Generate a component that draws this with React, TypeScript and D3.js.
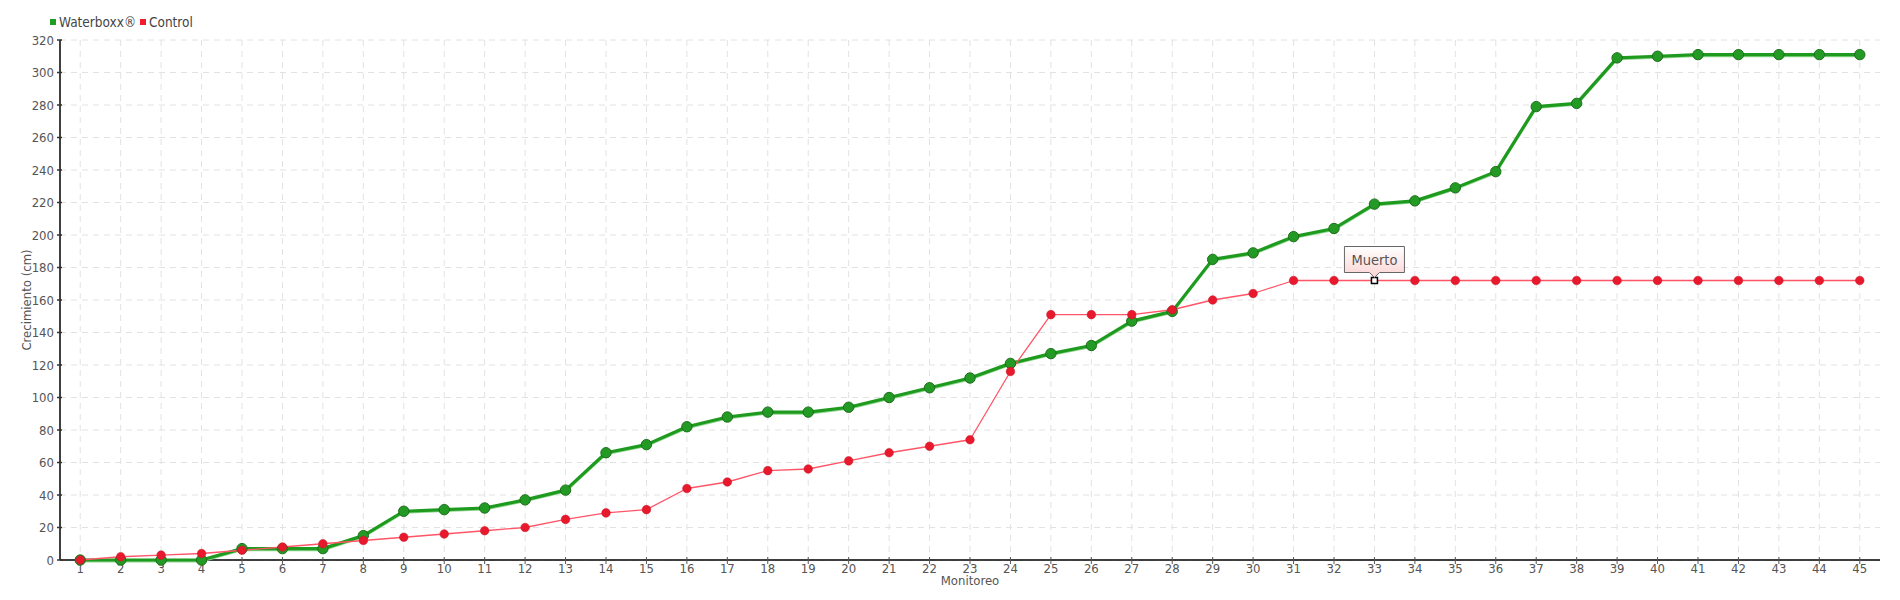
import React from "react";
import * as d3 from "d3";

const categories: string[] = Array.from({ length: 45 }, (_, i) => String(i + 1));
const waterboxx: number[] = [
  0, 0, 0, 0, 7, 7, 7, 15, 30, 31, 32, 37, 43, 66, 71, 82, 88, 91, 91, 94,
  100, 106, 112, 121, 127, 132, 147, 153, 185, 189, 199, 204, 219, 221, 229, 239, 279, 281, 309, 310,
  311, 311, 311, 311, 311,
];
const control: number[] = [
  0, 2, 3, 4, 6, 8, 10, 12, 14, 16, 18, 20, 25, 29, 31, 44, 48, 55, 56, 61,
  66, 70, 74, 116, 151, 151, 151, 154, 160, 164, 172, 172, 172, 172, 172, 172, 172, 172, 172, 172,
  172, 172, 172, 172, 172,
];
const yTicks: number[] = [0, 20, 40, 60, 80, 100, 120, 140, 160, 180, 200, 220, 240, 260, 280, 300, 320];
const seriesNames: string[] = ["Waterboxx®", "Control"];
const annotationIndex = 32;
const annotationText = "Muerto";

const W = 1900;
const H = 600;
const left = 60;
const right = 1880;
const top = 40;
const bottom = 560;
const FONT = "'DejaVu Sans Condensed', 'DejaVu Sans', sans-serif";

export default function App() {
  const x = d3.scaleBand<string>().domain(categories).range([left, right]).padding(0);
  const y = d3.scaleLinear().domain([0, 320]).range([bottom, top]);
  const cx = (i: number) => (x(categories[i]) as number) + x.bandwidth() / 2;

  const line = d3
    .line<number>()
    .x((_, i) => cx(i))
    .y((d) => y(d));
  const lineShadow = d3
    .line<number>()
    .x((_, i) => cx(i))
    .y((d) => y(d) + 1.5);

  const ax = cx(annotationIndex);
  const ay = y(control[annotationIndex]);
  const boxW = 60;
  const boxH = 26;
  const boxTop = ay - 34;

  return (
    <svg width={W} height={H} style={{ display: "block", position: "absolute", left: 0, top: 0 }}>
      <defs>
        <linearGradient id="tipGrad" x1="0" y1="0" x2="0" y2="1">
          <stop offset="0" stopColor="#ffffff" />
          <stop offset="1" stopColor="#fbd3d3" />
        </linearGradient>
      </defs>
      <rect x={0} y={0} width={W} height={H} fill="#fff" />
      {/* grid */}
      {yTicks.map((t) => (
        <line key={"gy" + t} x1={left} x2={right} y1={y(t)} y2={y(t)} stroke="#e2e2e2" strokeDasharray="6,5" strokeWidth={1} />
      ))}
      {categories.map((c, i) => (
        <line key={"gx" + c} x1={cx(i)} x2={cx(i)} y1={top} y2={bottom} stroke="#e2e2e2" strokeDasharray="6,5" strokeWidth={1} />
      ))}
      {/* axes */}
      <line x1={left} x2={left} y1={top} y2={bottom} stroke="#000" strokeWidth={1.5} />
      <line x1={left} x2={right} y1={bottom} y2={bottom} stroke="#000" strokeWidth={1.5} />
      {yTicks.map((t) => (
        <g key={"ty" + t}>
          <line x1={left - 3} x2={left + 2} y1={y(t)} y2={y(t)} stroke="#333" strokeWidth={1.5} />
          <text x={left - 6} y={y(t)} dy="0.35em" textAnchor="end" fontFamily={FONT} fontSize={13} fill="#555" style={{ fontStretch: "condensed" }}>
            {t}
          </text>
        </g>
      ))}
      {categories.map((c, i) => (
        <g key={"tx" + c}>
          <line x1={cx(i)} x2={cx(i)} y1={bottom - 3} y2={bottom + 4} stroke="#555" strokeWidth={1} />
          <text x={cx(i)} y={bottom + 13} textAnchor="middle" fontFamily={FONT} fontSize={13} fill="#555" style={{ fontStretch: "condensed" }}>
            {c}
          </text>
        </g>
      ))}
      <text x={(left + right) / 2} y={585} textAnchor="middle" fontFamily={FONT} fontSize={13} fill="#555">
        Monitoreo
      </text>
      <text
        transform={`translate(26,${(top + bottom) / 2}) rotate(-90)`}
        textAnchor="middle"
        dy="0.35em"
        fontFamily={FONT}
        fontSize={13}
        fill="#555"
      >
        Crecimiento (cm)
      </text>
      {/* legend */}
      <rect x={50} y={19} width={6} height={6} fill="#1e9e1e" />
      <text x={59} y={27} fontFamily={FONT} fontSize={13.5} fill="#444">
        {seriesNames[0]}
      </text>
      <rect x={140} y={19} width={6} height={6} fill="#ee1c2e" />
      <text x={149} y={27} fontFamily={FONT} fontSize={13.5} fill="#444">
        {seriesNames[1]}
      </text>
      {/* Waterboxx series */}
      <path d={lineShadow(waterboxx) as string} fill="none" stroke="#8fd68f" strokeWidth={2} />
      <path d={line(waterboxx) as string} fill="none" stroke="#1e9a1e" strokeWidth={3.2} strokeLinejoin="round" />
      {/* Control series */}
      <path d={line(control) as string} fill="none" stroke="#ff5566" strokeWidth={1.3} strokeLinejoin="round" />
      {waterboxx.map((v, i) => (
        <circle key={"wm" + i} cx={cx(i)} cy={y(v)} r={5.2} fill="#239a23" stroke="#1c6e1c" strokeWidth={1} />
      ))}
      {control.map((v, i) =>
        i === annotationIndex ? (
          <rect key={"cm" + i} x={cx(i) - 3} y={y(v) - 3} width={6} height={6} fill="#fff" stroke="#000" strokeWidth={1.5} />
        ) : (
          <circle key={"cm" + i} cx={cx(i)} cy={y(v)} r={4.3} fill="#e8192c" stroke="#c41424" strokeWidth={0.5} />
        )
      )}
      {/* annotation tooltip */}
      <path
        d={`M${ax - boxW / 2},${boxTop} H${ax + boxW / 2} V${boxTop + boxH} H${ax + 5} L${ax},${boxTop + boxH + 5} L${ax - 5},${boxTop + boxH} H${ax - boxW / 2} Z`}
        fill="url(#tipGrad)"
        stroke="#666"
        strokeWidth={1}
      />
      <text x={ax} y={boxTop + boxH / 2} dy="0.35em" textAnchor="middle" fontFamily={FONT} fontSize={14.5} fill="#555" style={{ fontStretch: "condensed" }}>
        {annotationText}
      </text>
    </svg>
  );
}
